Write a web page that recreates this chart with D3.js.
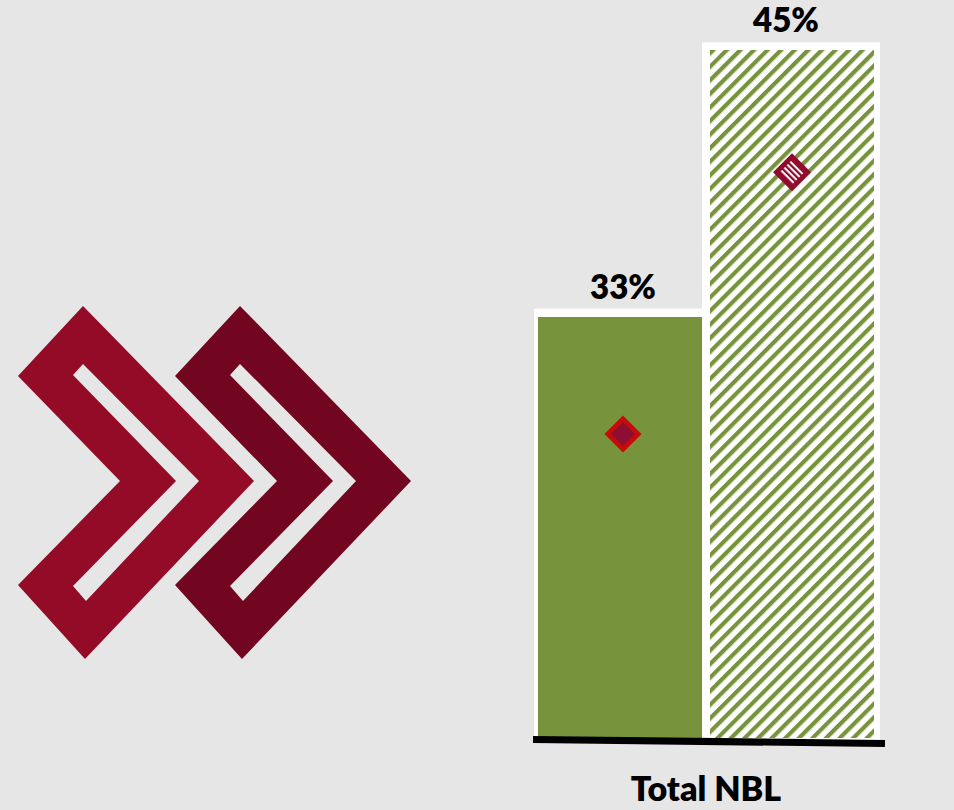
<!DOCTYPE html>
<html>
<head>
<meta charset="utf-8">
<script src="https://cdn.jsdelivr.net/npm/d3@7"></script>
<style>
  html, body { margin: 0; padding: 0; background: #e6e6e6; }
  svg { display: block; }
  text { font-family: Lato, "Open Sans", sans-serif; font-weight: 800; fill: #000000; }
</style>
</head>
<body>
<svg id="chart" width="954" height="810"></svg>
<script>
// Category and series
const category = "Total NBL";
const seriesNames = ["Current", "Target"];
const barValues = [33, 45];          // percent
const markerValues = [27.7, 39.5];   // percent, diamond markers
const barLabels = ["33%", "45%"];

const width = 954, height = 810;
const svg = d3.select("#chart");

svg.append("rect").attr("width", width).attr("height", height).attr("fill", "#e6e6e6");

// ---- patterns ----
const defs = svg.append("defs");
const hp = 9.6;   // perpendicular stripe period
const hatch = defs.append("pattern")
  .attr("id", "hatch")
  .attr("patternUnits", "userSpaceOnUse")
  .attr("width", hp).attr("height", hp)
  .attr("patternTransform", "rotate(45)");
hatch.append("rect").attr("width", hp).attr("height", hp).attr("fill", "#ffffff");
hatch.append("rect").attr("width", 4.2).attr("height", hp).attr("fill", "#77933c");

const hstripe = defs.append("pattern")
  .attr("id", "hstripe")
  .attr("patternUnits", "userSpaceOnUse")
  .attr("width", 8).attr("height", 4.2)
  .attr("y", 1);
hstripe.append("rect").attr("width", 8).attr("height", 4.2).attr("fill", "#900b2e");
hstripe.append("rect").attr("width", 8).attr("height", 2).attr("fill", "#ffffff");

// ---- decorative double chevron ----
function chevronPath(dx) {
  const outer = [[83,306],[254,481],[85,659],[18,585],[120,481],[18,376]];
  const hole  = [[73,375],[83,364],[199,481],[86,601],[73,586],[176,481]];
  const ring = pts => "M" + pts.map(p => (p[0] + dx) + "," + p[1]).join("L") + "Z";
  return ring(outer) + ring(hole);
}
svg.append("path").attr("d", chevronPath(0)).attr("fill", "#930b27").attr("fill-rule", "evenodd");
svg.append("path").attr("d", chevronPath(157)).attr("fill", "#72051f").attr("fill-rule", "evenodd");

// ---- scales ----
const x = d3.scaleBand()
  .domain(seriesNames)
  .range([538, 874])
  .paddingInner(8 / 172)
  .paddingOuter(0);

const y = d3.scaleLinear().domain([14, 47]).range([738, 6]);
const base = y.domain()[0];
const bw = x.bandwidth();

const bars = seriesNames.map((s, i) => ({ s, v: barValues[i], m: markerValues[i], label: barLabels[i], i }));

// white frames behind the bars
svg.selectAll("rect.frame").data(bars).join("rect")
  .attr("class", "frame")
  .attr("x", d => x(d.s) - (d.i === 0 ? 4 : 8))
  .attr("y", d => y(d.v) - 8)
  .attr("width", d => bw + (d.i === 0 ? 4 : 14))
  .attr("height", d => y(base) - y(d.v) + 10)
  .attr("fill", "#ffffff");

// bar fills
svg.selectAll("rect.bar").data(bars).join("rect")
  .attr("class", "bar")
  .attr("x", d => x(d.s))
  .attr("y", d => y(d.v))
  .attr("width", bw)
  .attr("height", d => y(base) - y(d.v))
  .attr("fill", d => d.i === 0 ? "#77933c" : "url(#hatch)")
  .attr("shape-rendering", "crispEdges");

// value labels
svg.selectAll("text.val").data(bars).join("text")
  .attr("class", "val")
  .attr("x", d => x(d.s) + bw / 2 + (d.i === 0 ? 3 : -6))
  .attr("y", d => y(d.v) - 18)
  .attr("text-anchor", "middle")
  .attr("font-size", 33)
  .text(d => d.label);

// diamond markers
const cx = d => x(d.s) + bw / 2 + (d.i === 0 ? 3 : 0);
const m0 = bars[0], m1 = bars[1];
svg.append("path")
  .attr("d", d3.symbol(d3.symbolSquare, 465)())
  .attr("transform", `translate(${cx(m0)},${y(m0.m)}) rotate(45)`)
  .attr("fill", "#8c0f33")
  .attr("stroke", "#c80a0a")
  .attr("stroke-width", 4.6);

svg.append("path")
  .attr("d", d3.symbol(d3.symbolSquare, 722)())
  .attr("transform", `translate(${cx(m1)},${y(m1.m)}) rotate(45)`)
  .attr("fill", "#900b2e");
svg.append("path")
  .attr("d", d3.symbol(d3.symbolSquare, 300)())
  .attr("transform", `translate(${cx(m1)},${y(m1.m)}) rotate(45)`)
  .attr("fill", "url(#hstripe)");

// category axis line
svg.append("line")
  .attr("x1", 533).attr("y1", y(base) + 1.5)
  .attr("x2", 885).attr("y2", y(base) + 5.5)
  .attr("stroke", "#000000")
  .attr("stroke-width", 7);

// category label
svg.append("text")
  .attr("x", x.range()[0] + (x.range()[1] - x.range()[0]) / 2)
  .attr("y", 801)
  .attr("text-anchor", "middle")
  .attr("font-size", 34)
  .text(category);
</script>
</body>
</html>
